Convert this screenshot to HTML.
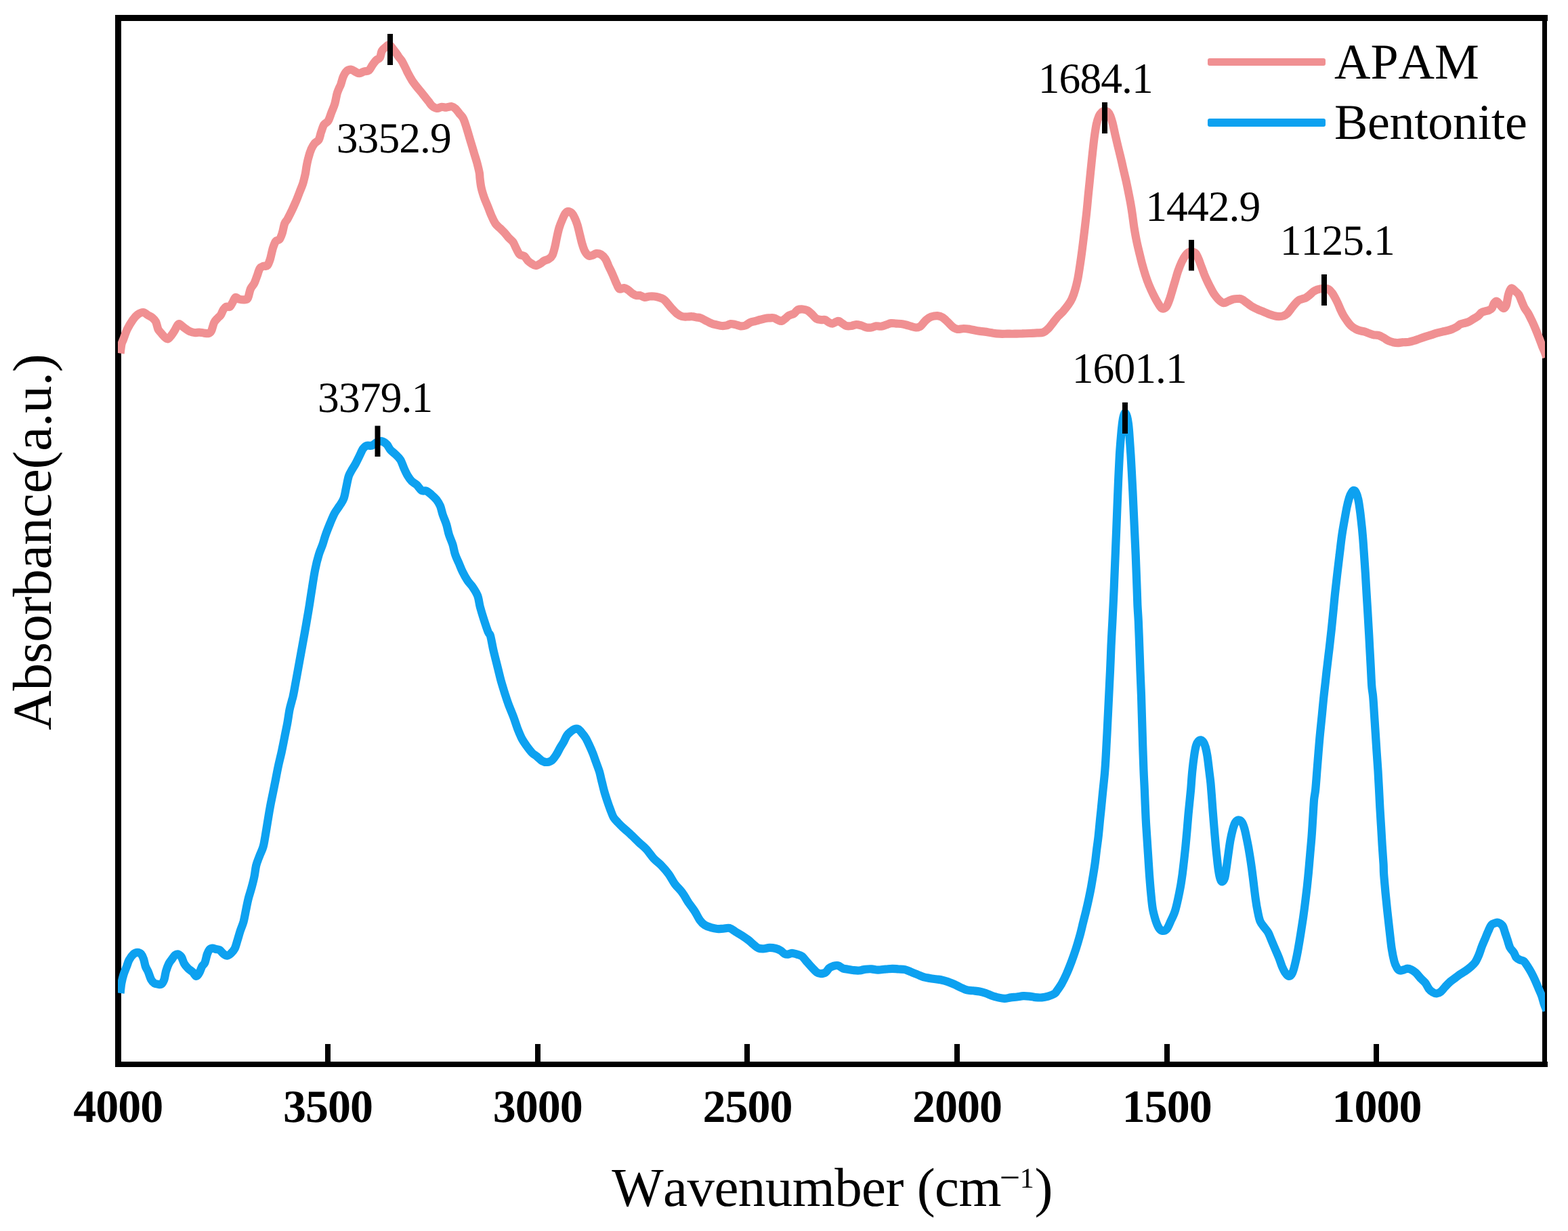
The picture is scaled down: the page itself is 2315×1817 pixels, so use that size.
<!DOCTYPE html>
<html lang="en">
<head>
<meta charset="utf-8">
<title>FTIR spectra: APAM and Bentonite</title>
<style>
html,body{margin:0;padding:0;background:#fff;}
body{width:2315px;height:1817px;overflow:hidden;}
svg{display:block;}
text{font-family:"Liberation Serif","DejaVu Serif",serif;fill:#000;font-kerning:none;font-feature-settings:"kern" 0,"liga" 0;text-rendering:geometricPrecision;}
.tk{font-weight:bold;font-size:68px;text-anchor:middle;letter-spacing:-1px;}
.an{font-size:63.5px;letter-spacing:-0.9px;}
.lg{font-size:74px;}
.lg2{letter-spacing:-0.35px;}
.ax{font-size:81px;text-anchor:middle;}
</style>
</head>
<body>
<svg width="2315" height="1817" viewBox="0 0 2315 1817">
<rect x="0" y="0" width="2315" height="1817" fill="#fff"/>
<defs><clipPath id="plot"><rect x="174.00" y="26.50" width="2107.00" height="1544.50"/></clipPath></defs>
<g id="axes" fill="#000" shape-rendering="crispEdges">
<rect x="170" y="22" width="2115" height="9"/>
<rect x="170" y="1567" width="2115" height="8"/>
<rect x="170" y="22" width="9" height="1553"/>
<rect x="2277" y="22" width="7" height="1553"/>
<rect x="480" y="1541" width="8" height="27"/>
<rect x="790" y="1541" width="8" height="27"/>
<rect x="1099" y="1541" width="8" height="27"/>
<rect x="1409" y="1541" width="8" height="27"/>
<rect x="1719" y="1541" width="8" height="27"/>
<rect x="2028" y="1541" width="8" height="27"/>
</g>
<g id="ticklabels">
<text class="tk" x="174.3" y="1655.7">4000</text>
<text class="tk" x="484.0" y="1655.7">3500</text>
<text class="tk" x="793.7" y="1655.7">3000</text>
<text class="tk" x="1103.4" y="1655.7">2500</text>
<text class="tk" x="1413.1" y="1655.7">2000</text>
<text class="tk" x="1722.8" y="1655.7">1500</text>
<text class="tk" x="2032.5" y="1655.7">1000</text>
</g>
<text class="ax" x="1228.5" y="1779.8" style="letter-spacing:-0.55px">Wavenumber (cm<tspan font-size="54px" dy="-23.7" dx="-2.2">−</tspan><tspan font-size="42px" dy="-2.6999999999999993" dx="0">1</tspan><tspan dy="26.4" dx="1.3">)</tspan></text>
<text class="ax" transform="translate(74.6 800.2) rotate(-90)" x="0" y="0" style="letter-spacing:-0.15px">Absorbance(a.u.)</text>
<g id="curves" clip-path="url(#plot)" fill="none" stroke-width="12.2" stroke-linejoin="round" stroke-linecap="butt">
<path stroke="#f09092" d="M177.6 521.6C177.9 519.4 178.7 511.6 179.4 508.2C180.2 504.8 180.7 504.7 182.1 501.0C183.5 497.3 185.6 490.6 187.9 485.8C190.3 481.0 193.7 475.6 196.2 472.0C198.7 468.4 200.6 466.3 203.1 464.4C205.6 462.6 208.8 460.9 211.4 461.0C213.9 461.1 216.0 463.7 218.3 465.1C220.6 466.5 223.2 467.6 225.1 469.2C227.1 470.9 228.6 472.0 230.0 474.8C231.4 477.5 232.2 483.0 233.4 485.8C234.7 488.5 235.9 489.4 237.6 491.3C239.2 493.3 241.3 496.0 243.1 497.5C244.8 499.0 246.3 500.6 247.9 500.3C249.5 499.9 251.0 497.6 252.7 495.4C254.4 493.3 256.6 489.8 258.2 487.2C259.8 484.5 261.2 481.1 262.4 479.6C263.5 478.1 264.0 477.9 265.1 478.2C266.3 478.6 267.7 480.4 269.3 481.7C270.9 482.9 272.9 484.5 274.8 485.8C276.6 487.1 278.2 488.4 280.3 489.2C282.4 490.1 284.9 490.8 287.2 491.0C289.5 491.3 291.8 490.5 294.1 490.6C296.4 490.7 298.7 491.4 301.0 491.6C303.3 491.8 306.0 492.5 307.9 492.0C309.7 491.5 310.6 491.2 312.0 488.5C313.4 485.9 314.5 479.4 316.1 476.1C317.7 472.9 320.0 471.1 321.7 469.2C323.3 467.4 324.4 467.2 325.8 465.1C327.2 463.0 328.5 458.9 329.9 456.8C331.3 454.8 332.5 453.4 334.1 452.7C335.7 452.0 338.0 453.9 339.6 452.7C341.2 451.6 342.3 448.1 343.7 445.8C345.1 443.5 346.2 439.6 347.8 438.9C349.5 438.2 351.3 441.1 353.4 441.7C355.4 442.2 358.2 442.6 360.3 442.4C362.3 442.1 364.2 442.9 365.8 440.3C367.4 437.7 368.3 430.2 369.9 426.5C371.5 422.8 373.8 421.5 375.4 418.2C377.0 415.0 378.2 410.9 379.6 407.2C380.9 403.5 382.1 398.6 383.7 396.2C385.3 393.8 387.4 393.4 389.2 392.7C391.0 392.0 393.1 393.8 394.7 392.0C396.3 390.3 397.5 386.8 398.9 382.4C400.2 378.0 401.6 370.2 403.0 365.8C404.4 361.5 405.5 358.3 407.1 356.2C408.7 354.1 411.0 355.5 412.6 353.4C414.3 351.4 415.5 347.7 416.8 343.8C418.0 339.9 418.9 333.4 420.2 330.0C421.5 326.6 422.6 326.8 424.5 323.3C426.3 319.9 429.2 314.2 431.4 309.6C433.5 305.0 435.7 300.1 437.6 295.8C439.4 291.4 440.8 287.5 442.4 283.4C444.0 279.2 445.8 275.3 447.2 271.0C448.6 266.6 449.7 261.5 450.7 257.2C451.6 252.8 451.9 248.9 452.7 244.8C453.5 240.6 454.3 236.5 455.5 232.4C456.6 228.2 458.1 223.4 459.6 219.9C461.1 216.5 462.6 214.0 464.4 211.7C466.3 209.4 469.0 208.9 470.7 206.2C472.3 203.4 472.8 198.8 474.1 195.1C475.4 191.5 476.5 186.9 478.2 184.1C480.0 181.3 482.6 181.6 484.4 178.6C486.3 175.6 487.7 170.3 489.3 166.2C490.9 162.0 492.7 158.4 494.1 153.8C495.5 149.2 496.5 142.4 497.5 138.6C498.6 134.8 499.4 133.3 500.3 131.0C501.2 128.7 502.0 127.7 503.1 124.8C504.1 121.9 505.2 117.0 506.5 113.8C507.9 110.5 509.4 107.3 511.4 105.5C513.3 103.6 516.0 102.6 518.3 102.7C520.6 102.8 523.1 105.2 525.1 106.2C527.2 107.1 528.6 108.4 530.7 108.2C532.7 108.1 535.3 106.2 537.6 105.5C539.9 104.8 542.4 105.7 544.4 104.1C546.5 102.5 548.1 98.4 550.0 95.8C551.8 93.3 553.6 90.8 555.5 88.9C557.3 87.1 559.6 87.1 561.0 84.8C562.4 82.5 562.4 77.7 563.8 75.1C565.1 72.6 567.5 71.1 569.3 69.6C571.1 68.1 572.7 65.7 574.5 66.0C576.3 66.4 578.0 69.4 580.0 71.8C582.0 74.3 584.9 78.5 586.4 80.5C587.8 82.6 587.8 82.8 588.8 84.2C589.9 85.6 591.5 87.3 592.6 88.9C593.7 90.6 594.3 91.9 595.5 94.0C596.6 96.2 598.3 99.7 599.5 102.0C600.6 104.4 601.0 105.6 602.4 108.2C603.8 110.9 605.8 114.7 607.9 117.9C609.9 121.1 612.5 124.5 614.8 127.5C617.1 130.5 619.6 133.3 621.7 135.8C623.7 138.3 625.3 140.4 627.2 142.7C629.0 145.0 630.8 147.3 632.7 149.6C634.5 151.9 636.1 154.8 638.2 156.5C640.3 158.2 642.8 159.7 645.1 159.9C647.4 160.2 649.7 158.1 652.0 157.9C654.3 157.6 656.4 158.7 658.9 158.6C661.4 158.4 664.9 156.8 667.2 157.2C669.4 157.5 670.8 158.9 672.7 160.6C674.5 162.3 676.3 165.2 678.2 167.5C680.0 169.8 682.1 171.4 683.7 174.4C685.3 177.4 686.5 181.3 687.8 185.4C689.2 189.6 690.6 194.6 692.0 199.2C693.3 203.8 694.7 208.4 696.1 213.0C697.5 217.6 698.9 222.2 700.2 226.8C701.6 231.4 703.1 235.9 704.4 240.6C705.6 245.3 707.1 251.2 707.8 255.1C708.5 258.9 708.1 260.0 708.6 263.8C709.1 267.5 709.6 273.0 710.7 277.6C711.7 282.2 713.2 286.8 714.8 291.4C716.4 296.0 718.5 300.6 720.3 305.1C722.2 309.7 724.0 314.8 725.8 318.9C727.7 323.1 729.3 327.0 731.4 330.0C733.4 333.0 736.0 334.6 738.3 336.9C740.6 339.2 743.1 341.5 745.1 343.8C747.2 346.0 748.6 348.3 750.7 350.6C752.7 352.9 755.7 355.0 757.6 357.5C759.4 360.1 760.1 362.8 761.7 365.8C763.3 368.8 765.1 373.4 767.2 375.5C769.3 377.5 772.0 376.6 774.1 378.2C776.2 379.8 777.8 383.3 779.6 385.1C781.5 386.9 783.3 388.1 785.1 389.2C787.0 390.4 788.6 392.0 790.6 392.0C792.7 392.0 795.5 390.4 797.5 389.2C799.6 388.1 801.0 386.3 803.1 385.1C805.1 384.0 807.9 383.7 809.9 382.4C812.0 381.0 813.9 380.1 815.5 376.8C817.1 373.6 818.4 367.6 819.6 363.1C820.7 358.5 821.3 353.9 822.4 349.3C823.4 344.7 824.4 339.8 825.8 335.5C827.2 331.1 829.1 326.5 830.6 323.1C832.1 319.6 833.4 316.6 834.8 314.8C836.1 313.0 837.3 312.0 838.9 312.0C840.5 312.0 842.8 313.2 844.4 314.8C846.0 316.4 847.2 318.7 848.5 321.7C849.9 324.7 851.4 328.6 852.7 332.7C853.9 336.9 855.0 341.9 856.1 346.5C857.3 351.1 858.3 356.2 859.6 360.3C860.8 364.4 862.1 368.5 863.7 371.3C865.3 374.2 867.4 376.6 869.2 377.5C871.1 378.4 872.9 377.4 874.7 376.8C876.6 376.3 878.2 374.3 880.3 374.1C882.3 373.9 884.9 374.1 887.2 375.5C889.4 376.8 892.2 379.6 894.0 382.4C895.9 385.1 896.8 389.0 898.2 392.0C899.6 395.0 900.9 397.3 902.3 400.3C903.7 403.3 905.1 406.7 906.5 409.9C907.8 413.1 909.2 416.8 910.6 419.6C912.0 422.3 912.9 425.6 914.7 426.5C916.6 427.4 919.5 424.9 921.6 425.1C923.7 425.3 925.1 426.5 927.1 427.8C929.2 429.2 932.0 432.0 934.0 433.4C936.1 434.7 937.7 435.7 939.5 436.1C941.4 436.6 943.0 435.7 945.1 436.1C947.1 436.6 949.7 438.6 951.9 438.9C954.2 439.1 956.5 437.7 958.8 437.5C961.1 437.3 963.4 437.3 965.7 437.5C968.0 437.7 970.3 438.2 972.6 438.9C974.9 439.6 977.5 440.3 979.5 441.6C981.6 443.0 982.9 444.8 985.0 447.2C987.1 449.5 989.7 453.0 992.1 455.6C994.5 458.2 997.0 461.0 999.4 462.9C1001.9 464.8 1004.3 466.2 1006.8 467.0C1009.2 467.8 1011.7 467.5 1014.1 467.5C1016.6 467.6 1019.0 467.0 1021.5 467.2C1023.9 467.3 1026.7 468.1 1028.8 468.5C1031.0 468.8 1031.9 468.5 1034.3 469.4C1036.8 470.3 1040.8 472.6 1043.5 474.0C1046.3 475.3 1048.4 476.7 1050.9 477.6C1053.3 478.6 1055.8 478.9 1058.2 479.5C1060.7 480.0 1063.1 480.8 1065.6 481.0C1068.0 481.1 1070.8 480.9 1072.9 480.4C1075.1 479.9 1076.3 478.2 1078.5 478.0C1080.6 477.8 1083.4 478.6 1085.8 479.1C1088.3 479.7 1090.7 481.1 1093.2 481.3C1095.6 481.5 1098.1 481.3 1100.5 480.4C1103.0 479.5 1105.4 476.9 1107.9 475.8C1110.3 474.7 1112.8 474.6 1115.2 474.0C1117.7 473.3 1120.1 472.4 1122.6 471.8C1125.0 471.1 1127.8 470.3 1129.9 469.9C1132.1 469.5 1133.3 469.5 1135.4 469.4C1137.6 469.3 1140.6 468.9 1142.8 469.4C1144.9 469.8 1146.5 471.4 1148.3 472.1C1150.1 472.9 1152.0 474.3 1153.8 474.0C1155.7 473.7 1157.5 471.7 1159.3 470.3C1161.2 468.9 1162.7 466.9 1164.9 465.7C1167.0 464.5 1170.1 464.3 1172.2 462.9C1174.4 461.6 1175.6 458.5 1177.7 457.4C1179.9 456.4 1182.6 456.4 1185.1 456.5C1187.5 456.7 1190.0 457.0 1192.4 458.3C1194.9 459.7 1197.6 462.8 1199.8 464.8C1201.9 466.8 1203.1 469.1 1205.3 470.3C1207.4 471.5 1210.5 471.8 1212.6 472.1C1214.8 472.4 1216.3 471.5 1218.2 472.1C1220.0 472.7 1221.8 474.9 1223.7 475.8C1225.5 476.7 1227.4 477.8 1229.2 477.6C1231.0 477.5 1233.2 475.5 1234.7 474.9C1236.2 474.3 1236.9 473.5 1238.4 474.0C1239.9 474.4 1242.1 476.5 1243.9 477.6C1245.7 478.8 1247.3 480.4 1249.4 481.0C1251.6 481.5 1254.3 481.3 1256.8 481.0C1259.2 480.6 1261.7 479.2 1264.1 479.1C1266.6 479.0 1269.0 479.7 1271.5 480.4C1273.9 481.1 1276.4 482.6 1278.8 483.2C1281.3 483.7 1283.7 483.8 1286.2 483.5C1288.6 483.2 1291.1 481.6 1293.5 481.3C1296.0 481.0 1298.4 482.0 1300.9 481.7C1303.3 481.4 1305.8 480.3 1308.2 479.5C1310.7 478.7 1313.1 477.4 1315.6 477.1C1318.0 476.8 1320.5 477.5 1322.9 477.6C1325.4 477.8 1327.8 477.7 1330.3 478.0C1332.7 478.3 1335.2 478.9 1337.6 479.5C1340.1 480.1 1342.5 481.0 1345.0 481.7C1347.5 482.4 1350.2 483.4 1352.4 483.5C1354.5 483.6 1356.6 482.8 1357.9 482.2C1359.2 481.7 1358.6 482.1 1360.2 480.4C1361.8 478.7 1365.1 474.3 1367.6 472.1C1370.0 470.0 1372.2 468.5 1374.9 467.5C1377.7 466.6 1381.4 466.1 1384.1 466.2C1386.9 466.4 1389.0 467.0 1391.5 468.5C1393.9 469.9 1396.4 472.6 1398.8 474.9C1401.3 477.2 1403.7 480.4 1406.2 482.2C1408.6 484.1 1410.8 485.5 1413.5 485.9C1416.3 486.4 1419.7 485.0 1422.7 485.0C1425.8 485.0 1428.5 485.4 1431.9 485.9C1435.3 486.5 1439.3 487.7 1442.9 488.3C1446.6 488.9 1450.3 489.1 1454.0 489.6C1457.6 490.1 1461.3 490.9 1465.0 491.4C1468.7 492.0 1472.4 492.5 1476.0 492.7C1479.7 492.9 1483.4 492.7 1487.1 492.7C1490.7 492.7 1494.4 492.8 1498.1 492.7C1501.8 492.7 1505.4 492.5 1509.1 492.4C1512.8 492.2 1516.5 492.1 1520.1 492.0C1523.8 491.8 1527.8 491.7 1531.2 491.4C1534.5 491.2 1537.6 491.6 1540.4 490.5C1543.1 489.4 1545.3 487.5 1547.7 485.0C1550.2 482.5 1552.6 478.9 1555.1 475.8C1557.5 472.7 1560.0 469.4 1562.4 466.6C1564.9 463.9 1567.3 462.0 1569.8 459.3C1572.2 456.5 1575.0 453.1 1577.1 450.1C1579.3 447.0 1581.0 444.6 1582.6 440.9C1584.3 437.2 1585.9 432.6 1587.2 428.0C1588.6 423.4 1589.8 418.5 1590.9 413.3C1592.0 408.1 1592.8 402.6 1593.7 396.8C1594.6 390.9 1595.6 384.5 1596.4 378.4C1597.3 372.3 1597.5 370.6 1598.8 360.0C1600.1 349.4 1602.8 327.3 1604.1 315.1C1605.4 302.9 1605.9 296.1 1606.8 286.8C1607.8 277.5 1608.7 268.4 1609.6 259.2C1610.5 250.0 1611.4 240.8 1612.4 231.7C1613.4 222.5 1614.5 212.1 1615.5 204.1C1616.6 196.0 1617.6 188.9 1618.8 183.4C1620.0 177.9 1621.4 174.0 1622.7 171.0C1624.0 168.0 1625.5 166.7 1626.8 165.5C1628.2 164.3 1629.5 163.8 1631.0 163.8C1632.5 163.8 1634.4 164.3 1635.8 165.5C1637.2 166.7 1638.1 168.2 1639.2 171.0C1640.4 173.8 1641.5 177.7 1642.7 182.0C1643.8 186.4 1644.9 191.7 1646.1 197.2C1647.4 202.7 1648.9 209.4 1650.3 215.1C1651.7 220.9 1653.0 225.9 1654.4 231.7C1655.8 237.4 1657.2 243.6 1658.5 249.6C1659.9 255.6 1661.4 261.8 1662.7 267.5C1663.9 273.2 1665.0 278.5 1666.1 284.0C1667.2 289.6 1668.4 295.4 1669.3 300.6C1670.2 305.8 1670.8 309.2 1671.6 315.1C1672.5 320.9 1673.4 328.9 1674.4 335.5C1675.5 342.1 1676.6 348.6 1677.9 354.8C1679.1 361.0 1680.6 367.0 1682.0 372.7C1683.4 378.5 1684.7 383.8 1686.1 389.3C1687.6 394.8 1689.3 400.5 1691.0 405.8C1692.7 411.1 1694.4 415.9 1696.5 421.0C1698.6 426.0 1701.1 431.5 1703.4 436.1C1705.7 440.7 1708.2 445.3 1710.3 448.5C1712.3 451.8 1713.8 454.8 1715.8 455.4C1717.7 456.1 1720.2 455.0 1722.0 452.7C1723.8 450.4 1725.3 445.8 1726.8 441.7C1728.3 437.5 1729.6 432.5 1731.0 427.9C1732.3 423.3 1733.7 418.7 1735.1 414.1C1736.5 409.5 1737.6 404.9 1739.2 400.3C1740.8 395.7 1742.9 390.4 1744.7 386.5C1746.6 382.6 1748.6 379.2 1750.3 376.9C1751.9 374.6 1752.9 373.6 1754.4 372.7C1755.9 371.8 1757.4 371.1 1759.2 371.3C1761.1 371.6 1763.7 372.3 1765.4 374.1C1767.1 375.9 1768.2 379.2 1769.6 382.4C1770.9 385.6 1772.3 389.7 1773.7 393.4C1775.1 397.1 1776.5 401.0 1777.8 404.4C1779.2 407.9 1780.4 410.6 1782.0 414.1C1783.6 417.5 1785.6 421.7 1787.5 425.1C1789.3 428.6 1790.9 431.8 1793.0 434.8C1795.1 437.7 1797.6 441.0 1799.9 443.0C1802.2 445.1 1804.5 446.9 1806.8 447.2C1809.1 447.4 1811.4 445.3 1813.7 444.4C1816.0 443.5 1818.3 442.2 1820.6 441.7C1822.9 441.1 1825.2 440.9 1827.5 441.0C1829.8 441.1 1830.9 440.4 1834.4 442.3C1837.8 444.2 1844.6 450.0 1848.3 452.4C1852.0 454.7 1853.8 455.2 1856.5 456.5C1859.3 457.8 1862.1 458.8 1864.8 459.9C1867.6 461.1 1870.3 462.4 1873.1 463.4C1875.8 464.4 1878.8 465.5 1881.4 466.1C1883.9 466.8 1886.0 467.1 1888.3 467.1C1890.6 467.1 1893.1 466.9 1895.1 466.1C1897.2 465.4 1898.8 464.4 1900.7 462.7C1902.5 461.0 1904.3 458.1 1906.2 455.8C1908.0 453.5 1909.9 451.0 1911.7 448.9C1913.5 446.8 1915.4 444.7 1917.2 443.4C1919.0 442.1 1920.9 442.0 1922.7 441.3C1924.6 440.6 1926.4 440.3 1928.2 439.3C1930.1 438.2 1931.9 436.6 1933.8 435.1C1935.6 433.6 1937.4 431.6 1939.3 430.3C1941.1 429.0 1942.9 428.2 1944.8 427.5C1946.6 426.9 1948.5 426.5 1950.3 426.2C1952.1 425.9 1954.0 425.6 1955.8 425.8C1957.6 425.9 1959.5 425.8 1961.3 426.9C1963.2 428.0 1965.2 430.3 1966.8 432.4C1968.4 434.4 1969.6 436.7 1971.0 439.3C1972.4 441.8 1973.7 444.5 1975.1 447.5C1976.5 450.5 1977.9 454.2 1979.2 457.2C1980.6 460.2 1981.8 462.7 1983.4 465.5C1985.0 468.2 1987.1 471.2 1988.9 473.7C1990.7 476.3 1992.3 478.7 1994.4 480.6C1996.5 482.6 1999.0 484.2 2001.3 485.5C2003.6 486.7 2005.9 487.5 2008.2 488.2C2010.5 488.9 2012.8 488.9 2015.1 489.6C2017.4 490.3 2019.7 491.5 2022.0 492.3C2024.3 493.1 2026.6 494.0 2028.9 494.4C2031.2 494.9 2033.5 494.4 2035.8 495.1C2038.1 495.8 2040.4 497.3 2042.7 498.5C2045.0 499.8 2047.3 501.6 2049.6 502.7C2051.9 503.8 2054.2 504.6 2056.5 505.2C2058.8 505.7 2060.8 506.1 2063.3 506.1C2065.9 506.1 2068.9 505.4 2071.6 505.2C2074.4 504.9 2077.1 505.2 2079.9 504.8C2082.6 504.3 2085.4 503.5 2088.2 502.7C2090.9 501.8 2093.7 500.6 2096.4 499.7C2099.2 498.7 2101.9 497.8 2104.7 496.9C2107.5 496.0 2110.2 495.3 2113.0 494.4C2115.7 493.5 2118.5 492.5 2121.2 491.7C2124.0 490.9 2127.0 490.2 2129.5 489.6C2132.0 489.0 2133.8 488.9 2136.3 488.2C2138.8 487.5 2142.1 486.5 2144.6 485.5C2147.1 484.4 2149.7 483.2 2151.5 482.0C2153.3 480.9 2154.0 479.4 2155.6 478.6C2157.2 477.8 2159.1 477.8 2161.1 477.2C2163.2 476.6 2165.7 476.1 2168.0 475.1C2170.3 474.1 2172.6 472.4 2174.9 471.0C2177.2 469.6 2179.8 468.4 2181.8 466.8C2183.9 465.2 2185.5 462.6 2187.3 461.3C2189.2 460.1 2191.0 459.8 2192.8 459.3C2194.7 458.7 2196.8 458.6 2198.4 457.9C2200.0 457.2 2201.2 456.8 2202.5 455.1C2203.8 453.4 2204.7 449.3 2205.9 447.5C2207.2 445.8 2208.6 444.3 2210.1 444.8C2211.6 445.2 2213.3 448.6 2214.9 450.3C2216.5 452.0 2218.2 455.1 2219.7 455.1C2221.2 455.1 2222.7 453.4 2223.9 450.3C2225.0 447.2 2225.7 440.2 2226.6 436.5C2227.5 432.8 2228.5 430.1 2229.4 428.2C2230.3 426.4 2230.9 425.2 2232.1 425.5C2233.4 425.7 2235.2 428.0 2237.0 429.6C2238.7 431.2 2240.9 432.6 2242.5 435.1C2244.1 437.7 2245.2 441.6 2246.6 444.8C2248.0 448.0 2249.1 451.4 2250.8 454.4C2252.4 457.4 2254.4 459.5 2256.3 462.7C2258.1 465.9 2259.9 469.8 2261.8 473.7C2263.6 477.6 2265.5 481.8 2267.3 486.1C2269.1 490.5 2271.2 495.8 2272.8 499.9C2274.4 504.1 2275.8 507.9 2276.9 511.0C2278.1 514.0 2278.9 515.3 2280.0 518.0C2281.1 520.7 2282.8 525.8 2283.3 527.3"/>
<path stroke="#0da1f0" d="M177.6 1466.0C177.9 1463.6 178.5 1456.0 179.3 1451.4C180.1 1446.8 181.2 1442.5 182.5 1438.4C183.8 1434.3 185.6 1430.2 187.0 1426.6C188.4 1423.0 189.0 1419.8 190.7 1416.8C192.3 1413.8 194.8 1410.4 196.9 1408.5C199.0 1406.7 201.1 1405.8 203.1 1405.8C205.0 1405.8 207.1 1406.9 208.6 1408.5C210.1 1410.2 211.0 1412.5 212.0 1415.4C213.1 1418.4 213.7 1423.3 214.8 1426.5C216.0 1429.7 217.6 1431.5 218.9 1434.7C220.3 1438.0 221.6 1443.0 223.1 1445.8C224.6 1448.5 226.2 1450.1 227.9 1451.3C229.6 1452.4 231.7 1452.4 233.4 1452.7C235.1 1452.9 236.8 1453.8 238.2 1452.7C239.7 1451.5 241.2 1449.0 242.4 1445.8C243.5 1442.6 244.0 1437.3 245.1 1433.4C246.3 1429.5 247.8 1425.3 249.3 1422.3C250.8 1419.3 252.6 1417.5 254.1 1415.4C255.6 1413.4 256.7 1411.1 258.2 1409.9C259.7 1408.8 261.5 1408.1 263.1 1408.5C264.7 1409.0 266.4 1410.4 267.9 1412.7C269.4 1415.0 270.4 1419.6 272.0 1422.3C273.6 1425.1 275.5 1427.2 277.5 1429.2C279.6 1431.3 282.4 1432.8 284.4 1434.7C286.5 1436.7 288.2 1440.9 289.9 1440.9C291.7 1440.9 293.4 1437.2 294.8 1434.7C296.1 1432.3 297.0 1428.8 298.2 1426.5C299.5 1424.2 301.1 1423.9 302.4 1421.0C303.6 1418.0 304.7 1411.8 305.8 1408.5C306.9 1405.3 308.0 1403.1 309.2 1401.7C310.5 1400.2 311.8 1399.7 313.4 1399.6C315.0 1399.5 317.1 1400.5 318.9 1401.0C320.7 1401.4 322.6 1401.2 324.4 1402.3C326.2 1403.5 328.1 1406.5 329.9 1407.9C331.8 1409.2 333.6 1410.7 335.4 1410.6C337.3 1410.5 339.1 1408.9 341.0 1407.2C342.8 1405.4 344.9 1403.5 346.5 1400.3C348.1 1397.1 349.2 1392.2 350.6 1387.9C352.0 1383.5 353.2 1378.7 354.7 1374.1C356.2 1369.5 358.2 1365.3 359.6 1360.3C360.9 1355.2 361.9 1349.3 363.0 1343.8C364.2 1338.2 365.1 1332.7 366.5 1327.2C367.8 1321.7 369.8 1316.2 371.3 1310.7C372.8 1305.1 374.3 1299.6 375.4 1294.1C376.6 1288.6 376.9 1282.6 378.2 1277.6C379.4 1272.5 381.3 1268.4 383.0 1263.8C384.7 1259.2 387.1 1255.0 388.5 1250.0C390.0 1245.0 390.6 1239.9 391.7 1233.7C392.8 1227.5 394.0 1219.9 395.1 1213.0C396.3 1206.1 397.3 1199.2 398.6 1192.3C399.8 1185.4 401.3 1178.5 402.7 1171.7C404.1 1164.8 405.5 1157.9 406.9 1151.0C408.2 1144.1 409.5 1137.2 411.0 1130.3C412.5 1123.4 414.3 1116.5 415.8 1109.6C417.3 1102.7 418.6 1095.8 420.0 1088.9C421.3 1082.0 422.8 1075.1 424.1 1068.3C425.4 1061.4 426.4 1053.3 427.5 1047.6C428.7 1041.8 429.9 1038.4 431.0 1033.8C432.1 1029.2 431.0 1036.8 434.2 1020.0C437.3 1003.2 446.8 950.7 450.0 933.1C453.2 915.4 452.1 920.9 453.3 914.1C454.5 907.3 455.8 899.7 457.0 892.1C458.2 884.4 459.3 876.7 460.7 868.2C462.0 859.6 463.6 848.9 465.3 840.6C466.9 832.3 468.9 824.7 470.8 818.5C472.6 812.4 474.6 808.7 476.3 803.8C478.0 798.9 479.0 794.3 480.9 789.1C482.7 783.9 485.2 777.8 487.3 772.6C489.5 767.4 491.5 762.2 493.8 757.9C496.0 753.6 498.8 750.5 501.1 746.8C503.4 743.2 505.9 740.4 507.5 735.8C509.2 731.2 510.0 724.8 511.2 719.3C512.4 713.8 513.5 707.0 514.9 702.7C516.3 698.4 517.8 696.6 519.5 693.5C521.2 690.5 523.2 687.7 525.0 684.3C526.8 681.0 528.7 677.0 530.5 673.3C532.4 669.6 534.2 664.9 536.0 662.3C537.9 659.7 539.4 658.4 541.5 657.7C543.7 656.9 546.4 658.4 548.9 657.7C551.3 656.9 553.8 654.2 556.2 653.1C558.7 652.0 561.2 650.8 563.6 651.2C566.1 651.7 568.8 653.7 571.0 655.8C573.1 658.0 574.3 661.7 576.5 664.1C578.6 666.6 581.4 668.1 583.8 670.6C586.3 673.0 589.0 675.3 591.2 678.8C593.3 682.3 594.9 687.7 596.7 691.7C598.5 695.7 600.4 699.7 602.2 702.7C604.0 705.8 605.6 707.9 607.7 710.1C609.9 712.2 612.6 713.3 615.1 715.6C617.5 717.9 620.0 722.3 622.4 723.9C624.9 725.4 627.3 723.7 629.8 724.8C632.2 725.9 634.7 728.1 637.1 730.3C639.6 732.4 642.3 734.9 644.5 737.6C646.6 740.4 648.5 743.2 650.0 746.8C651.5 750.5 652.1 755.1 653.7 759.7C655.2 764.3 657.7 769.5 659.2 774.4C660.7 779.3 661.3 784.2 662.9 789.1C664.4 794.0 666.9 798.9 668.4 803.8C669.9 808.7 670.5 813.9 672.1 818.5C673.6 823.1 675.7 827.1 677.6 831.4C679.4 835.7 680.9 840.0 683.1 844.3C685.2 848.6 688.0 853.5 690.4 857.1C692.9 860.8 695.3 862.6 697.8 866.3C700.2 870.0 703.3 874.3 705.1 879.2C707.0 884.1 707.3 889.9 708.8 895.7C710.4 901.6 712.3 907.9 714.3 914.1C716.3 920.3 719.2 929.0 720.8 933.1C722.4 937.1 722.7 933.8 724.0 938.4C725.3 942.9 726.9 953.1 728.6 960.4C730.3 967.8 732.3 975.1 734.1 982.5C736.0 989.9 737.8 997.8 739.6 1004.6C741.5 1011.3 743.3 1017.1 745.1 1022.9C747.0 1028.8 748.5 1033.7 750.7 1039.5C752.8 1045.3 755.7 1051.7 758.0 1057.9C760.3 1064.0 762.3 1070.7 764.4 1076.2C766.6 1081.8 768.6 1086.7 770.9 1091.0C773.2 1095.2 775.8 1098.6 778.2 1102.0C780.7 1105.4 783.1 1108.7 785.6 1111.2C788.0 1113.6 790.5 1114.7 792.9 1116.7C795.4 1118.7 797.8 1121.7 800.3 1123.1C802.7 1124.5 805.2 1125.1 807.6 1125.0C810.1 1124.8 812.7 1124.0 815.0 1122.2C817.3 1120.4 819.4 1117.0 821.4 1113.9C823.4 1110.9 825.1 1107.0 826.9 1103.8C828.8 1100.6 830.8 1097.7 832.5 1094.6C834.1 1091.6 835.4 1087.9 837.1 1085.4C838.7 1083.0 840.7 1081.5 842.6 1079.9C844.4 1078.4 846.2 1076.9 848.1 1076.2C849.9 1075.6 851.8 1075.3 853.6 1076.2C855.4 1077.2 857.3 1079.6 859.1 1081.8C861.0 1083.9 862.8 1086.1 864.6 1089.1C866.5 1092.2 868.3 1096.2 870.1 1100.1C872.0 1104.1 874.0 1108.7 875.7 1113.0C877.3 1117.3 878.7 1121.6 880.3 1125.9C881.8 1130.2 883.5 1134.2 884.9 1138.8C886.2 1143.3 887.3 1148.6 888.5 1153.5C889.8 1158.4 890.8 1163.3 892.2 1168.2C893.6 1173.1 895.3 1178.3 896.8 1182.9C898.3 1187.5 899.9 1191.8 901.4 1195.7C902.9 1199.7 904.2 1203.7 906.0 1206.8C907.8 1209.8 910.1 1211.7 912.4 1214.1C914.7 1216.6 917.3 1219.2 919.8 1221.5C922.2 1223.8 925.0 1226.0 927.1 1227.9C929.3 1229.8 930.0 1230.5 932.6 1233.1C935.3 1235.6 939.5 1239.8 943.1 1243.2C946.7 1246.6 950.4 1249.3 954.1 1253.3C957.8 1257.3 961.5 1263.1 965.1 1267.1C968.8 1271.1 972.5 1273.4 976.2 1277.2C979.9 1281.0 983.8 1285.5 987.2 1290.1C990.6 1294.7 993.0 1300.2 996.4 1304.8C999.8 1309.4 1004.1 1313.1 1007.4 1317.6C1010.8 1322.2 1013.6 1327.8 1016.6 1332.4C1019.7 1336.9 1023.1 1340.9 1025.8 1345.2C1028.6 1349.5 1030.7 1354.7 1033.2 1358.1C1035.6 1361.5 1037.8 1363.6 1040.5 1365.4C1043.3 1367.3 1046.6 1368.2 1049.7 1369.1C1052.8 1370.0 1055.8 1370.7 1058.9 1371.0C1062.0 1371.2 1065.0 1370.7 1068.1 1370.6C1071.2 1370.4 1074.2 1369.2 1077.3 1370.0C1080.3 1370.9 1083.4 1373.7 1086.5 1375.6C1089.5 1377.4 1092.6 1379.1 1095.7 1381.1C1098.7 1383.1 1102.1 1385.4 1104.9 1387.5C1107.6 1389.6 1109.8 1391.9 1112.2 1393.9C1114.7 1395.9 1117.1 1398.4 1119.6 1399.4C1122.0 1400.5 1124.2 1400.5 1126.9 1400.4C1129.7 1400.3 1133.0 1399.0 1136.1 1398.9C1139.2 1398.8 1142.5 1399.3 1145.3 1400.0C1148.1 1400.7 1150.5 1401.8 1152.6 1403.1C1154.8 1404.4 1156.3 1406.8 1158.2 1407.7C1160.0 1408.6 1161.8 1408.8 1163.7 1408.6C1165.5 1408.5 1167.0 1406.8 1169.2 1406.8C1171.3 1406.8 1174.1 1407.9 1176.5 1408.6C1179.0 1409.4 1181.4 1409.6 1183.9 1411.4C1186.3 1413.2 1188.8 1416.9 1191.2 1419.7C1193.7 1422.4 1196.2 1425.3 1198.6 1427.9C1201.1 1430.5 1203.8 1433.8 1206.0 1435.3C1208.1 1436.8 1209.3 1437.1 1211.5 1437.1C1213.6 1437.1 1216.7 1436.7 1218.8 1435.3C1221.0 1433.9 1222.5 1430.4 1224.3 1428.9C1226.2 1427.3 1227.7 1426.7 1229.9 1426.1C1232.0 1425.5 1234.8 1424.6 1237.2 1425.2C1239.7 1425.7 1242.1 1428.5 1244.6 1429.4C1247.0 1430.3 1249.5 1430.3 1251.9 1430.7C1254.4 1431.1 1256.5 1431.7 1259.3 1432.0C1262.0 1432.3 1265.4 1432.8 1268.5 1432.5C1271.5 1432.3 1274.6 1431.1 1277.6 1430.7C1280.7 1430.3 1283.8 1430.2 1286.8 1430.3C1289.9 1430.5 1293.0 1431.6 1296.0 1431.6C1299.1 1431.7 1303.2 1430.9 1305.2 1430.7C1307.3 1430.5 1306.3 1430.7 1308.4 1430.5C1310.4 1430.4 1314.5 1429.8 1317.6 1429.8C1320.6 1429.8 1323.7 1430.3 1326.8 1430.5C1329.8 1430.7 1332.9 1430.4 1336.0 1431.1C1339.0 1431.8 1342.1 1433.5 1345.1 1434.7C1348.2 1436.0 1351.3 1437.2 1354.3 1438.4C1357.4 1439.6 1360.5 1441.2 1363.5 1442.1C1366.6 1443.0 1369.7 1443.4 1372.7 1443.9C1375.8 1444.5 1378.8 1444.8 1381.9 1445.2C1385.0 1445.7 1388.0 1446.0 1391.1 1446.7C1394.2 1447.4 1397.2 1448.4 1400.3 1449.4C1403.4 1450.5 1406.4 1451.7 1409.5 1453.1C1412.5 1454.5 1415.6 1456.3 1418.7 1457.7C1421.7 1459.1 1424.8 1460.6 1427.9 1461.4C1430.9 1462.2 1434.0 1461.9 1437.1 1462.3C1440.1 1462.7 1443.2 1463.0 1446.2 1463.6C1449.3 1464.2 1452.4 1465.0 1455.4 1466.0C1458.5 1467.0 1461.6 1468.6 1464.6 1469.7C1467.7 1470.7 1470.8 1471.7 1473.8 1472.4C1476.9 1473.1 1480.0 1473.9 1483.0 1473.9C1486.1 1473.9 1489.1 1472.8 1492.2 1472.4C1495.3 1472.0 1498.3 1471.9 1501.4 1471.5C1504.5 1471.1 1507.5 1470.4 1510.6 1470.2C1513.7 1470.1 1516.7 1470.3 1519.8 1470.6C1522.8 1470.9 1525.9 1471.8 1529.0 1472.1C1532.0 1472.4 1535.1 1472.7 1538.2 1472.4C1541.2 1472.2 1544.3 1471.5 1547.4 1470.6C1550.4 1469.7 1554.4 1468.2 1556.5 1466.9C1558.7 1465.7 1558.2 1465.6 1560.0 1463.1C1561.8 1460.6 1564.9 1456.3 1567.4 1452.1C1569.8 1447.8 1572.3 1442.9 1574.7 1437.4C1577.2 1431.8 1579.8 1425.1 1582.1 1419.0C1584.4 1412.8 1586.5 1406.7 1588.5 1400.6C1590.5 1394.5 1592.3 1388.3 1594.0 1382.2C1595.7 1376.1 1597.1 1370.0 1598.6 1363.8C1600.1 1357.7 1601.7 1351.6 1603.2 1345.4C1604.7 1339.3 1606.1 1333.2 1607.4 1327.1C1608.7 1320.9 1610.0 1314.8 1611.1 1308.7C1612.2 1302.5 1613.2 1296.4 1614.2 1290.3C1615.2 1284.2 1616.2 1278.0 1617.0 1271.9C1617.8 1265.8 1618.4 1259.7 1619.2 1253.5C1620.0 1247.4 1620.9 1241.3 1621.6 1235.1C1622.3 1229.0 1622.8 1222.9 1623.4 1216.8C1624.0 1210.6 1624.6 1204.5 1625.3 1198.4C1625.9 1192.3 1626.5 1185.6 1627.1 1180.0C1627.6 1174.4 1627.9 1172.0 1628.6 1164.9C1629.3 1157.8 1630.5 1148.1 1631.3 1137.4C1632.2 1126.6 1632.9 1112.8 1633.5 1100.6C1634.2 1088.3 1634.8 1076.1 1635.4 1063.8C1636.0 1051.6 1636.6 1039.3 1637.2 1027.1C1637.8 1014.8 1638.5 1002.5 1639.0 990.3C1639.6 978.0 1640.0 965.8 1640.5 953.5C1641.1 941.3 1641.7 929.0 1642.4 916.8C1643.0 904.5 1643.7 890.2 1644.2 880.0C1644.7 869.8 1644.8 865.9 1645.2 855.7C1645.6 845.6 1646.2 831.2 1646.7 819.0C1647.2 806.7 1647.7 794.5 1648.2 782.2C1648.7 770.0 1649.1 757.7 1649.6 745.4C1650.1 733.2 1650.6 720.9 1651.1 708.7C1651.7 696.4 1652.3 682.6 1652.9 671.9C1653.6 661.2 1654.3 652.0 1655.0 644.3C1655.6 636.7 1656.2 630.9 1656.8 626.0C1657.4 621.1 1657.9 617.7 1658.6 614.9C1659.4 612.2 1660.3 609.4 1661.2 609.4C1662.1 609.4 1663.2 612.2 1664.0 614.9C1664.8 617.7 1665.4 621.1 1666.0 626.0C1666.6 630.9 1667.1 636.7 1667.6 644.3C1668.2 652.0 1668.8 661.2 1669.5 671.9C1670.1 682.6 1670.9 696.4 1671.5 708.7C1672.2 720.9 1672.8 733.2 1673.3 745.4C1673.9 757.7 1674.4 770.0 1675.0 782.2C1675.6 794.5 1676.1 806.7 1676.7 819.0C1677.2 831.2 1677.7 843.4 1678.1 855.7C1678.6 868.1 1679.0 882.9 1679.4 893.1C1679.9 903.2 1680.3 906.7 1680.8 916.8C1681.2 926.8 1681.8 941.3 1682.2 953.5C1682.7 965.8 1683.1 978.0 1683.5 990.3C1684.0 1002.5 1684.6 1014.8 1685.0 1027.1C1685.4 1039.3 1685.7 1051.6 1686.1 1063.8C1686.5 1076.1 1686.8 1088.3 1687.2 1100.6C1687.6 1112.8 1688.1 1126.6 1688.5 1137.4C1688.9 1148.1 1689.3 1153.2 1689.8 1164.9C1690.3 1176.6 1691.0 1195.9 1691.6 1207.6C1692.2 1219.3 1692.7 1226.0 1693.3 1235.1C1693.9 1244.3 1694.5 1253.5 1695.1 1262.7C1695.7 1271.9 1696.3 1281.1 1696.9 1290.3C1697.6 1299.5 1698.3 1309.3 1699.2 1317.9C1700.0 1326.4 1700.7 1335.0 1701.9 1341.8C1703.1 1348.5 1704.7 1353.7 1706.1 1358.3C1707.6 1362.9 1709.1 1366.7 1710.7 1369.3C1712.4 1371.9 1714.3 1373.6 1716.2 1373.9C1718.2 1374.2 1720.7 1373.5 1722.7 1371.2C1724.7 1368.9 1726.2 1364.4 1728.2 1360.1C1730.2 1355.9 1732.8 1351.0 1734.6 1345.4C1736.5 1339.9 1737.8 1333.2 1739.2 1327.1C1740.6 1320.9 1741.8 1314.8 1742.9 1308.7C1744.0 1302.5 1744.8 1296.4 1745.7 1290.3C1746.5 1284.2 1747.1 1278.7 1747.9 1271.9C1748.6 1265.2 1749.5 1257.5 1750.3 1249.9C1751.0 1242.2 1751.8 1233.9 1752.5 1226.0C1753.2 1218.0 1753.8 1209.7 1754.5 1202.1C1755.2 1194.4 1756.1 1186.2 1756.7 1180.0C1757.3 1173.8 1757.5 1172.0 1758.2 1164.9C1758.8 1157.8 1759.5 1145.6 1760.4 1137.4C1761.2 1129.1 1762.2 1121.4 1763.1 1115.3C1764.0 1109.2 1764.9 1104.1 1765.9 1100.6C1766.9 1097.1 1768.0 1095.5 1769.2 1094.2C1770.4 1092.8 1771.6 1092.2 1772.9 1092.3C1774.1 1092.5 1775.4 1093.4 1776.5 1095.1C1777.7 1096.8 1778.7 1099.1 1779.7 1102.4C1780.6 1105.8 1781.5 1109.5 1782.4 1115.3C1783.3 1121.1 1784.4 1130.6 1785.2 1137.4C1786.0 1144.1 1786.8 1149.6 1787.4 1155.7C1788.0 1161.9 1788.3 1167.0 1788.9 1174.1C1789.4 1181.2 1790.1 1190.7 1790.7 1198.4C1791.3 1206.1 1791.9 1213.1 1792.5 1220.4C1793.1 1227.8 1793.7 1235.1 1794.4 1242.5C1795.0 1249.9 1795.8 1257.5 1796.6 1264.6C1797.3 1271.6 1798.1 1279.3 1799.0 1284.8C1799.8 1290.3 1800.8 1294.9 1801.7 1297.6C1802.6 1300.4 1803.4 1301.6 1804.5 1301.3C1805.6 1301.0 1807.1 1299.5 1808.2 1295.8C1809.2 1292.1 1810.0 1285.4 1810.9 1279.3C1811.8 1273.1 1812.8 1265.5 1813.7 1259.0C1814.6 1252.6 1815.4 1246.5 1816.4 1240.7C1817.5 1234.8 1818.9 1228.6 1820.1 1224.1C1821.3 1219.7 1822.4 1216.3 1823.8 1214.0C1825.2 1211.7 1826.7 1210.3 1828.4 1210.3C1830.1 1210.3 1832.4 1211.7 1833.9 1214.0C1835.4 1216.3 1836.3 1219.7 1837.6 1224.1C1838.8 1228.6 1840.0 1234.5 1841.2 1240.7C1842.5 1246.8 1843.8 1253.8 1844.9 1260.9C1846.1 1267.9 1847.2 1275.6 1848.2 1282.9C1849.2 1290.3 1850.1 1297.6 1851.0 1305.0C1851.9 1312.4 1852.8 1320.3 1853.8 1327.1C1854.7 1333.8 1855.7 1339.9 1856.9 1345.4C1858.0 1351.0 1858.9 1356.2 1860.6 1360.1C1862.2 1364.1 1865.0 1366.6 1867.0 1369.3C1869.0 1372.1 1870.8 1373.6 1872.5 1376.7C1874.2 1379.8 1875.4 1383.7 1877.1 1387.7C1878.8 1391.7 1880.8 1396.3 1882.6 1400.6C1884.4 1404.9 1886.4 1409.2 1888.1 1413.5C1889.8 1417.7 1891.2 1422.6 1892.7 1426.3C1894.3 1430.0 1895.6 1433.1 1897.3 1435.5C1899.0 1438.0 1901.0 1441.0 1902.8 1441.0C1904.7 1441.0 1906.7 1439.2 1908.3 1435.5C1910.0 1431.8 1911.6 1424.8 1912.9 1419.0C1914.3 1413.1 1915.4 1407.3 1916.6 1400.6C1917.8 1393.8 1919.1 1386.2 1920.3 1378.5C1921.5 1370.9 1922.7 1363.2 1924.0 1354.6C1925.2 1346.1 1926.4 1337.2 1927.6 1327.1C1928.9 1316.9 1930.3 1304.7 1931.3 1294.0C1932.4 1283.2 1933.2 1272.5 1934.1 1262.7C1934.9 1252.9 1935.8 1244.3 1936.5 1235.1C1937.2 1226.0 1937.7 1216.8 1938.3 1207.6C1938.9 1198.4 1939.5 1187.0 1940.1 1180.0C1940.8 1173.0 1941.5 1172.5 1942.2 1165.4C1942.9 1158.4 1943.7 1147.1 1944.4 1137.9C1945.1 1128.7 1945.9 1119.5 1946.6 1110.3C1947.4 1101.1 1948.1 1091.9 1949.0 1082.7C1949.9 1073.5 1950.8 1064.3 1951.8 1055.1C1952.7 1046.0 1953.5 1036.8 1954.5 1027.6C1955.5 1018.4 1956.9 1007.1 1957.6 1000.0C1958.4 992.9 1958.4 992.0 1959.3 984.9C1960.1 977.8 1961.5 966.5 1962.6 957.4C1963.6 948.2 1964.7 939.0 1965.7 929.8C1966.7 920.6 1967.5 911.4 1968.5 902.2C1969.4 893.0 1970.2 883.8 1971.2 874.6C1972.2 865.4 1973.3 856.2 1974.3 847.1C1975.4 837.9 1976.5 828.7 1977.6 819.5C1978.8 810.3 1979.8 800.2 1981.0 791.9C1982.1 783.6 1983.4 776.9 1984.6 769.9C1985.9 762.8 1987.1 755.5 1988.3 749.6C1989.5 743.8 1990.8 738.8 1992.0 734.9C1993.2 731.1 1994.5 728.5 1995.7 726.7C1996.8 724.8 1997.7 723.9 1998.8 723.9C1999.8 723.9 2000.8 724.5 2001.9 726.7C2003.0 728.8 2004.3 732.6 2005.2 736.8C2006.2 740.9 2006.8 746.0 2007.6 751.5C2008.4 757.0 2009.1 763.1 2009.8 769.9C2010.6 776.6 2011.3 783.6 2012.0 791.9C2012.7 800.2 2013.4 810.3 2014.0 819.5C2014.7 828.7 2015.3 837.9 2015.9 847.1C2016.5 856.2 2017.0 865.4 2017.5 874.6C2018.1 883.8 2018.6 893.0 2019.2 902.2C2019.7 911.4 2020.3 920.6 2020.8 929.8C2021.4 939.0 2021.8 948.2 2022.3 957.4C2022.8 966.5 2023.3 975.6 2023.8 984.9C2024.3 994.2 2024.7 1005.9 2025.3 1013.1C2025.8 1020.2 2026.5 1020.6 2027.1 1027.6C2027.8 1034.6 2028.4 1046.0 2029.0 1055.1C2029.6 1064.3 2030.2 1073.5 2030.8 1082.7C2031.4 1091.9 2032.0 1101.1 2032.6 1110.3C2033.3 1119.5 2033.9 1128.7 2034.5 1137.9C2035.0 1147.1 2035.5 1156.2 2036.0 1165.4C2036.4 1174.6 2036.9 1183.8 2037.4 1193.0C2037.9 1202.2 2038.5 1211.4 2039.1 1220.6C2039.6 1229.8 2040.2 1239.0 2040.7 1248.2C2041.3 1257.4 2042.2 1268.8 2042.6 1275.7C2043.0 1282.7 2042.6 1283.0 2043.1 1290.0C2043.6 1297.0 2044.7 1308.4 2045.5 1317.6C2046.4 1326.8 2047.3 1336.0 2048.3 1345.1C2049.3 1354.3 2050.3 1363.5 2051.4 1372.7C2052.5 1381.9 2053.5 1392.6 2054.7 1400.3C2055.9 1408.0 2057.2 1414.1 2058.4 1418.7C2059.6 1423.3 2060.7 1425.6 2062.1 1427.9C2063.4 1430.2 2065.0 1431.9 2066.7 1432.5C2068.3 1433.1 2070.3 1432.0 2072.2 1431.5C2074.0 1431.1 2075.7 1429.7 2077.7 1429.7C2079.7 1429.7 2082.0 1430.5 2084.1 1431.5C2086.3 1432.6 2088.4 1434.1 2090.6 1436.1C2092.7 1438.1 2094.7 1441.0 2097.0 1443.5C2099.3 1445.9 2102.2 1448.1 2104.3 1450.8C2106.5 1453.6 2108.0 1457.7 2109.9 1460.0C2111.7 1462.3 2113.5 1463.6 2115.4 1464.6C2117.2 1465.7 2118.9 1466.6 2120.9 1466.5C2122.9 1466.3 2125.2 1465.4 2127.3 1463.7C2129.5 1462.0 2131.5 1458.8 2133.8 1456.4C2136.0 1453.9 2138.7 1451.2 2141.1 1449.0C2143.6 1446.9 2146.0 1445.3 2148.5 1443.5C2150.9 1441.7 2153.4 1439.7 2155.8 1438.0C2158.3 1436.3 2160.7 1435.1 2163.2 1433.4C2165.6 1431.7 2168.1 1430.0 2170.5 1427.9C2173.0 1425.7 2175.7 1423.6 2177.9 1420.5C2180.0 1417.5 2181.7 1413.5 2183.4 1409.5C2185.1 1405.5 2186.4 1400.6 2188.0 1396.6C2189.5 1392.6 2191.0 1389.3 2192.6 1385.6C2194.1 1381.9 2195.6 1377.9 2197.2 1374.6C2198.7 1371.2 2200.1 1367.4 2201.8 1365.4C2203.4 1363.4 2205.6 1363.2 2207.3 1362.6C2209.0 1362.0 2210.0 1361.1 2211.9 1361.7C2213.7 1362.3 2216.6 1363.8 2218.3 1366.3C2220.0 1368.7 2220.8 1372.9 2222.0 1376.4C2223.2 1379.9 2224.4 1383.8 2225.7 1387.4C2226.9 1391.1 2227.8 1395.4 2229.3 1398.5C2230.9 1401.5 2233.3 1403.4 2234.9 1405.8C2236.4 1408.3 2237.0 1411.3 2238.5 1413.2C2240.1 1415.0 2242.2 1415.9 2244.0 1416.8C2245.9 1417.8 2247.7 1417.1 2249.6 1418.7C2251.4 1420.2 2253.2 1423.3 2255.1 1426.0C2256.9 1428.8 2258.8 1431.9 2260.6 1435.2C2262.4 1438.6 2264.3 1442.3 2266.1 1446.2C2267.9 1450.2 2269.9 1455.1 2271.6 1459.1C2273.3 1463.1 2274.9 1466.4 2276.2 1470.1C2277.5 1473.9 2278.4 1478.0 2279.6 1481.6C2280.8 1485.2 2282.8 1489.8 2283.5 1491.5"/>
</g>
<g id="legend">
<rect x="1783" y="86" width="174" height="11" rx="3" fill="#f09092"/>
<rect x="1783" y="175" width="174" height="12" rx="3" fill="#0da1f0"/>
<text class="lg" x="1970.0" y="116.3">APAM</text>
<text class="lg lg2" x="1970.0" y="205.4">Bentonite</text>
</g>
<g id="peaks">
<rect x="572.00" y="50.00" width="8.00" height="46.00" fill="#000"/>
<text class="an" x="496.7" y="225.3">3352.9</text>
<rect x="1627.00" y="151.00" width="8.00" height="46.00" fill="#000"/>
<text class="an" x="1532.7" y="136.9">1684.1</text>
<rect x="1755.00" y="354.00" width="8.00" height="45.50" fill="#000"/>
<text class="an" x="1691.2" y="325.6">1442.9</text>
<rect x="1951.00" y="405.00" width="8.00" height="46.00" fill="#000"/>
<text class="an" x="1889.7" y="375.6">1125.1</text>
<rect x="553.50" y="628.50" width="8.00" height="45.50" fill="#000"/>
<text class="an" x="469.1" y="607.8">3379.1</text>
<rect x="1657.00" y="594.00" width="8.00" height="46.00" fill="#000"/>
<text class="an" x="1582.7" y="565.3">1601.1</text>
</g>
</svg>
</body>
</html>
